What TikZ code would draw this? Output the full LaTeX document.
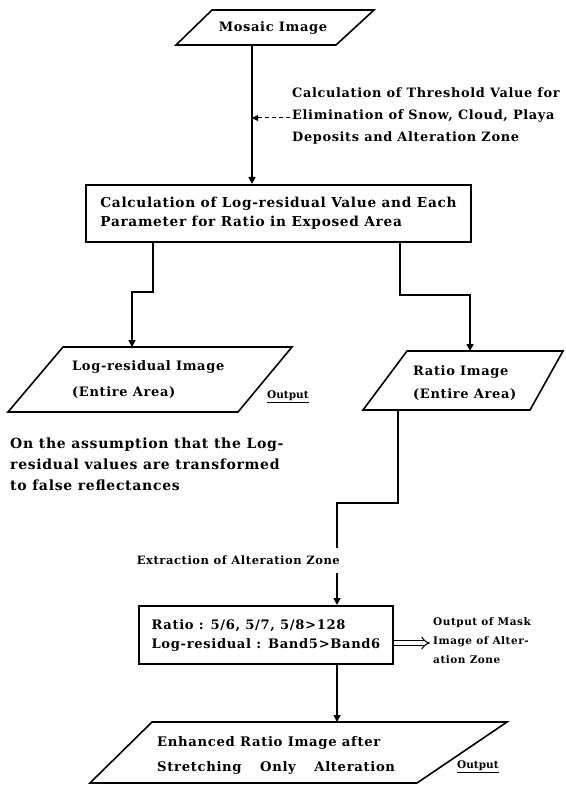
\documentclass[tikz,border=0pt]{standalone}
\usepackage{fontspec}
\setmainfont[LetterSpace=5]{DejaVu Serif}
\newfontfamily\plainfont{DejaVu Serif}
\usetikzlibrary{arrows.meta}
\begin{document}
\begin{tikzpicture}[x=1pt,y=-1pt,
  shp/.style={draw, line width=1.6pt, line join=miter},
  boxnode/.style={draw, line width=2pt, align=left, inner xsep=12pt, inner ysep=0pt, anchor=north west},
  conn/.style={line width=1.6pt},
  arr/.style={conn, -{Triangle[length=7pt,width=7pt]}},
  dasharr/.style={line width=1pt, dashed, dash pattern=on 4pt off 3pt, -{Triangle[length=6pt,width=6pt]}},
  hollowarr/.style={double, double distance=3.5pt, line width=1pt, -{Implies[length=6pt]}},
  txt/.style={font=\bfseries\fontsize{13}{20}\selectfont, align=left, inner sep=0pt},
  outlbl/.style={font=\plainfont\bfseries\fontsize{10.5}{12}\selectfont, inner sep=0pt, anchor=west},
]
\useasboundingbox (0,0) rectangle (565,786);

% ---- Mosaic image
\draw[shp] (212,10) -- (374,10) -- (336,45) -- (176,45) -- cycle;
\node[txt] (mos) at (273,28) {Mosaic Image};
\coordinate (mosB) at (252,45);

% ---- threshold note
\node[txt, anchor=west, font=\bfseries\fontsize{12.9}{22}\selectfont] (thr) at (292,116)
  {Calculation of Threshold Value for\\Elimination of Snow, Cloud, Playa\\Deposits and Alteration Zone};

% ---- calculation box
\node[boxnode, minimum height=57pt, minimum width=385pt, font=\bfseries\fontsize{13.7}{19}\selectfont] (calc) at (85,184)
  {Calculation of Log-residual Value and Each\\Parameter for Ratio in Exposed Area};

\draw[arr] (mosB) -- (mosB |- calc.north);
\draw[dasharr] ([xshift=-2pt]thr.west |- 0,118) -- (mosB |- 0,118);

% ---- Log-residual image
\draw[shp] (63,347) -- (292,347) -- (238,412) -- (8,412) -- cycle;
\coordinate (lrT) at (132,347);
\node[txt, anchor=west, font=\bfseries\fontsize{13}{26}\selectfont] (lr) at (72,380)
  {Log-residual Image\\(Entire Area)};
\node[outlbl] (out1) at (267,397) {\underline{Output}};

% ---- Ratio image
\draw[shp] (407,351) -- (563,351) -- (530,410) -- (363,410) -- cycle;
\coordinate (raT) at (470,351);
\coordinate (raB) at (398,410);
\node[txt, anchor=west, font=\bfseries\fontsize{13}{23}\selectfont] (ra) at (413,383)
  {Ratio Image\\(Entire Area)};

\draw[arr] ([xshift=68pt]calc.south west) -- ++(0,49) -| (lrT);
\draw[arr] ([xshift=315pt]calc.south west) -- ++(0,52) -| (raT);

% ---- note
\node[txt, anchor=west, font=\bfseries\fontsize{14}{21}\selectfont] (note) at (10,464)
  {On the assumption that the Log-\\residual values are transformed\\to false reflectances};

% ---- extraction
\coordinate (exA) at (337,548);
\coordinate (exB) at (337,573);
\draw[conn] (raB) -- ++(0,93) -| (exA);
\node[txt, anchor=east, font=\bfseries\fontsize{11.5}{20}\selectfont] (ext) at (340,560) {Extraction of Alteration Zone};

% ---- mask box
\node[boxnode, inner xsep=11pt, minimum height=58pt, minimum width=254pt, font=\bfseries\fontsize{13.1}{19}\selectfont] (mask) at (138,605)
  {Ratio : 5/6, 5/7, 5/8>128\\Log-residual : Band5>Band6};
\draw[arr] (exB) -- (exB |- mask.north);

\draw[hollowarr] ([yshift=-8pt]mask.east) -- ++(36,0) coordinate (mkA);
\node[txt, anchor=west, font=\bfseries\fontsize{10.5}{19}\selectfont] (mk) at (433,641)
  {Output of Mask\\Image of Alter-\\ation Zone};

% ---- enhanced ratio image
\draw[shp] (152,722) -- (507,722) -- (417,783) -- (90,783) -- cycle;
\coordinate (botT) at (337,722);
\draw[arr] (exB |- mask.south) -- (botT);
\node[txt, anchor=west, font=\bfseries\fontsize{13.2}{25}\selectfont] (enh) at (157,755)
  {Enhanced Ratio Image after\\Stretching\quad\ Only\quad\ Alteration};
\node[outlbl] (out2) at (457,767) {\underline{Output}};
\end{tikzpicture}
\end{document}
